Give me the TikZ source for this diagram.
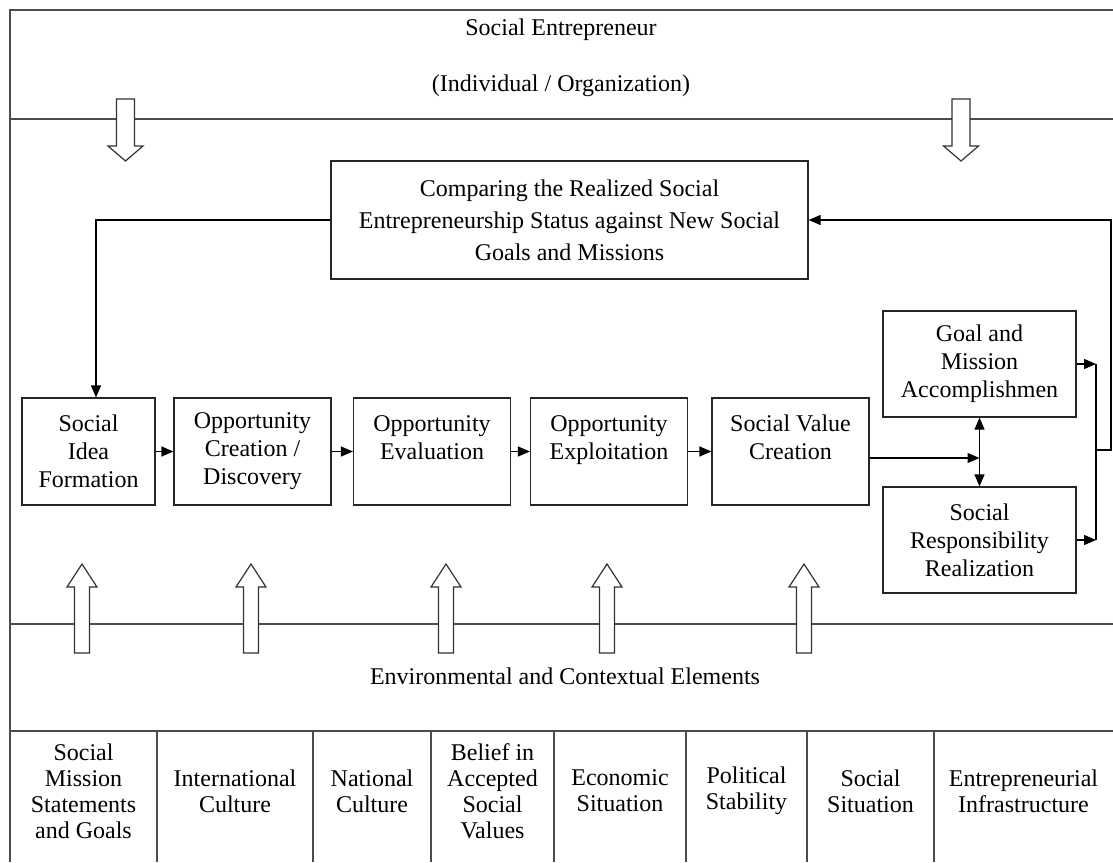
\documentclass[tikz,border=0pt]{standalone}
\usepackage{fontspec}
\setmainfont{Liberation Serif}
\usetikzlibrary{arrows.meta,positioning,calc}

\begin{document}
\begin{tikzpicture}[x=0.5pt, y=-0.5pt,
    every node/.style={font=\fontsize{12}{14}\selectfont},
    frameline/.style={black!70, line width=0.7pt},
    stagebox/.style={draw=black!85, line width=0.6pt, minimum width=78.5pt, minimum height=53.5pt, align=center, inner sep=2pt},
    outcomebox/.style={draw=black!85, line width=0.6pt, minimum width=96.5pt, minimum height=53pt, align=center, inner sep=2pt},
    factor/.style={align=center, font=\fontsize{12}{13}\selectfont},
    blockarrow/.style={draw=black!80, fill=white, line width=0.6pt, line join=miter},
    arrow/.style={-{Triangle[length=6pt, width=5pt]}, line width=0.6pt},
    dblarrow/.style={{Triangle[length=6pt, width=5pt]}-{Triangle[length=6pt, width=5pt]}, line width=0.6pt}
]
    \useasboundingbox (0,0) rectangle (1113,862);

    % Frame
    \draw[frameline] (1113,10) -- (10,10) -- (10,862);
    \foreach \ly in {119,624,731}
        \draw[frameline] (10,\ly) -- (1113,\ly);
    \foreach \cx in {157,313,431,554,686,807,934}
        \draw[frameline] (\cx,731) -- (\cx,862);

    % Header
    \node (entre) at (561,30) {Social Entrepreneur};
    \node (entreorg) at (561,86) {(Individual / Organization)};

    % Down arrows
    \foreach \ax in {125.5,961}
        \draw[blockarrow] (\ax-9,99) -- (\ax+9,99) -- (\ax+9,146) -- (\ax+17.5,146) -- (\ax,161) -- (\ax-17.5,146) -- (\ax-9,146) -- cycle;

    % Comparing
    \node[draw=black!85, line width=0.6pt, minimum width=238.5pt, minimum height=59pt, align=center, font=\fontsize{12}{16}\selectfont] (cmp) at (569.5,220)
        {Comparing the Realized Social\\Entrepreneurship Status against New Social\\Goals and Missions};

    % Process stages
    \node[stagebox, minimum width=66.5pt] (idea) at (88.5,451.5) {Social\\Idea\\Formation};
    \node[stagebox] (create) at (252.5,451.5) {Opportunity\\Creation /\\Discovery};
    \node[stagebox] (eval) at (432,451.5) {Opportunity\\Evaluation\\\mbox{}};
    \node[stagebox] (exploit) at (609,451.5) {Opportunity\\Exploitation\\\mbox{}};
    \node[stagebox] (value) at (790.5,451.5) {Social Value\\Creation\\\mbox{}};

    % Outcomes
    \node[outcomebox] (goal) at (979.5,364) {Goal and\\Mission\\Accomplishmen};
    \node[outcomebox] (resp) at (979.5,540) {Social\\Responsibility\\Realization};

    % Arrows
    \draw[arrow] (idea) -- (create);
    \draw[arrow] (create) -- (eval);
    \draw[arrow] (eval) -- (exploit);
    \draw[arrow] (exploit) -- (value);
    \coordinate (meet) at (979.5,458);
    \draw[arrow] (value.east |- meet) -- (meet);
    \draw[dblarrow] (goal) -- (resp);
    \coordinate (rail) at (1096,450);
    \coordinate (back) at (1111,450);
    \draw[arrow] (goal.east) -- (goal.east -| rail);
    \draw[arrow] (resp.east) -- (resp.east -| rail);
    \draw[line width=0.6pt] (goal.east -| rail) -- (resp.east -| rail);
    \draw[arrow] (rail) -- (back) |- (cmp.east);
    \draw[arrow] (cmp.west) -| ($(idea.north)+(7.5,0)$);

    % Up arrows
    \foreach \ax in {82,251,446,607,804}
        \draw[blockarrow] (\ax-7.5,653) -- (\ax-7.5,587) -- (\ax-15,587) -- (\ax,564) -- (\ax+15,587) -- (\ax+7.5,587) -- (\ax+7.5,653) -- cycle;

    % Context
    \node (env) at (565,676) {Environmental and Contextual Elements};
    \node[factor] (f1) at (83.5,791) {Social\\Mission\\Statements\\and Goals};
    \node[factor] (f2) at (235,791) {International\\Culture};
    \node[factor] (f3) at (372,791) {National\\Culture};
    \node[factor] (f4) at (492.5,791) {Belief in\\Accepted\\Social\\Values};
    \node[factor] (f5) at (620,791) {Economic\\Situation};
    \node[factor] (f6) at (746.5,791) {Political\\Stability};
    \node[factor] (f7) at (870.5,791) {Social\\Situation};
    \node[factor] (f8) at (1023.5,791) {Entrepreneurial\\Infrastructure};
\end{tikzpicture}
\end{document}
